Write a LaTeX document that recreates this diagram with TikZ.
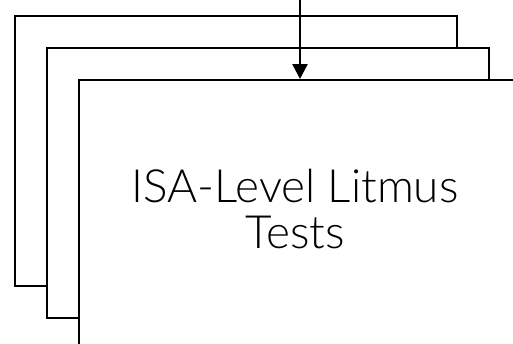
\documentclass[tikz,border=0pt]{standalone}
\usepackage{fontspec}
\setmainfont{Lato}[UprightFont=* Light]
\usetikzlibrary{arrows.meta}

\begin{document}
\begin{tikzpicture}[x=1bp, y=-1bp,
  card/.style={draw, line width=2.4bp, fill=white, rectangle, inner sep=0pt, anchor=north west},
  flow/.style={-{Triangle[width=15bp, length=15bp]}, line width=2.4bp}]
  \useasboundingbox (0,0) rectangle (513,343);
  \clip (0,0) rectangle (513,343);
  % Stacked test sheets, back to front
  \node[card, minimum width=442bp, minimum height=270bp] (back) at (14,15) {};
  \node[card, minimum width=442bp, minimum height=270bp] (middle) at (46,47) {};
  \node[card, minimum width=460bp, minimum height=290bp] (front) at (78,79) {};
  % Sheet title
  \node[font=\fontsize{46}{47}\selectfont, align=center] (title) at (295,209)
    {ISA-Level Litmus\\Tests};
  % Incoming arrow
  \coordinate (input) at (300,0);
  \draw[flow] (input) -- (input |- front.north);
\end{tikzpicture}
\end{document}
